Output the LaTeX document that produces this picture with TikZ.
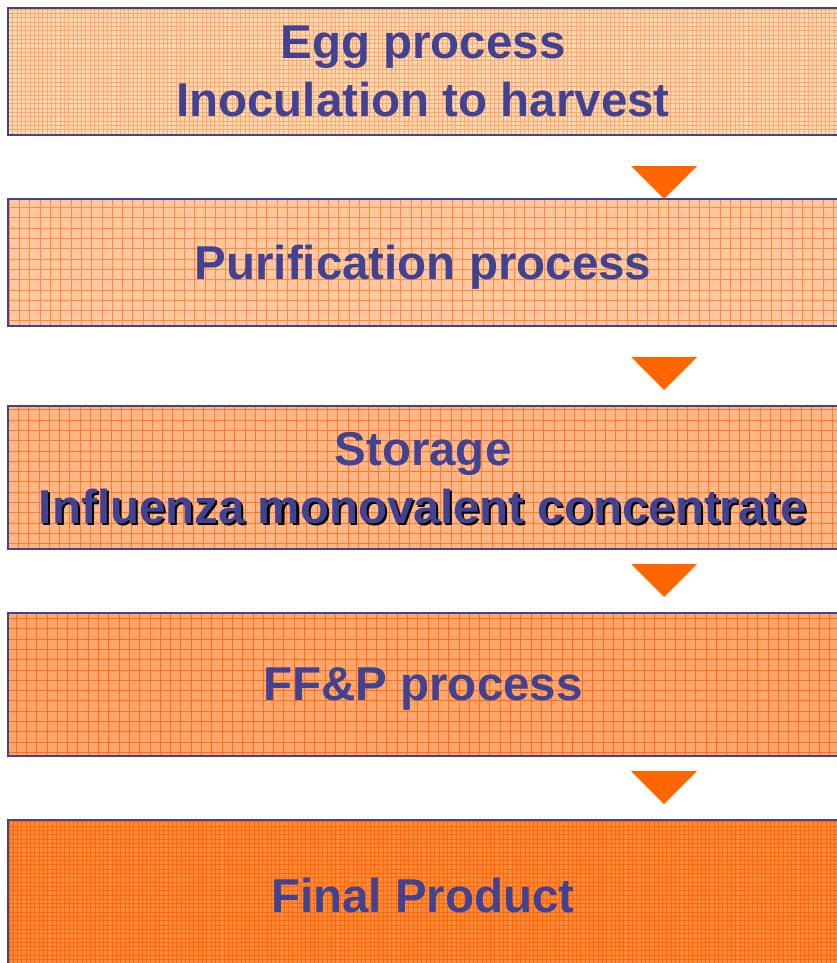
\documentclass[tikz,border=0pt]{standalone}
\usepackage{fontspec}
\setmainfont{Liberation Sans}
\usepackage{tikz}
\usepackage{xcolor}
\usetikzlibrary{positioning}
\definecolor{fluBlue}{RGB}{66,66,146}
\definecolor{fluArrow}{RGB}{255,102,0}
\definecolor{fluPaleA}{RGB}{255,216,186}
\definecolor{fluPaleB}{RGB}{255,200,160}
\definecolor{fluPaleC}{RGB}{255,182,135}
\definecolor{fluPaleD}{RGB}{255,166,108}
\definecolor{fluPaleE}{RGB}{255,140,62}
\definecolor{fluLineA}{RGB}{255,168,100}
\definecolor{fluLineB}{RGB}{255,140,60}
\definecolor{fluLineC}{RGB}{255,122,36}
\definecolor{fluLineD}{RGB}{255,112,20}
\definecolor{fluLineE}{RGB}{255,104,6}
\newcommand{\dropshadow}[1]{\rlap{\kern2pt\raisebox{-2pt}{\color{black}#1}}#1}

\begin{document}
\begin{tikzpicture}[x=1pt,y=-1pt,
  box/.style={draw=fluBlue, line width=2pt, minimum width=830pt,
              minimum height=127pt, inner sep=0pt, align=center, text=fluBlue,
              text depth=0pt, font=\bfseries\fontsize{47.5}{58}\selectfont},
  weave/.style n args={3}{fill=#1, path picture={
      \draw[#2, line width=0.9pt] (path picture bounding box.south west)
        grid[step=#3] (path picture bounding box.north east);}},
  marker/.style={fill=fluArrow}
]
  \useasboundingbox (0,0) rectangle (836,963);

  \node[box, weave={fluPaleA}{fluLineA}{4.3pt}] at (423,71.5) (b1)
    {Egg process\\Inoculation to harvest};
  \node[box, weave={fluPaleB}{fluLineB}{10.3pt}, below=62pt of b1] (b2)
    {Purification process};
  \node[box, weave={fluPaleC}{fluLineC}{10.3pt}, minimum height=143pt, below=78pt of b2] (b3)
    {Storage\\\dropshadow{Influenza monovalent concentrate}};
  \node[box, weave={fluPaleD}{fluLineD}{10.3pt}, minimum height=143pt, below=62pt of b3] (b4)
    {FF\&P process};
  \node[box, weave={fluPaleE}{fluLineE}{4.3pt}, minimum height=150pt, below=62pt of b4] (b5)
    {Final Product};

  \foreach \n in {1,...,4} {
    \coordinate (t\n) at ([xshift=241pt, yshift=-159pt]b\n.north);
    \fill[marker] ([xshift=-33pt]t\n) -- ([xshift=33pt]t\n) -- ([yshift=-33pt]t\n) -- cycle;
  }
\end{tikzpicture}
\end{document}
